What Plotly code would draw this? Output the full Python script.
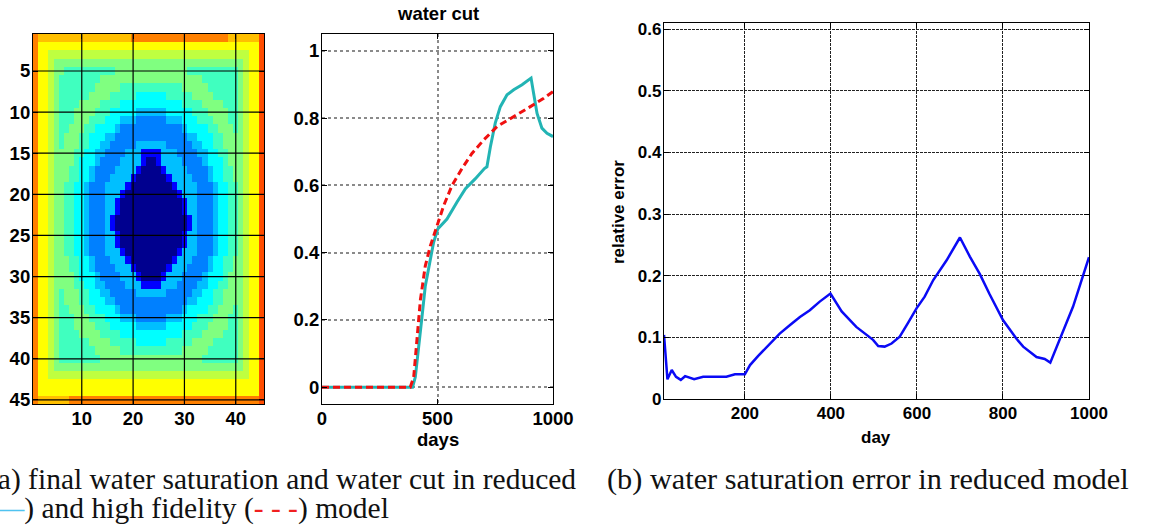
import plotly.graph_objects as go

# ---------------- data ----------------
# (a-left) final water saturation, 45 x 45 cells, coded by colour level
LEVEL_VALUES = {"0": 0.0, "1": 0.125, "2": 0.25, "3": 0.3125, "4": 0.375, "5": 0.4375,
                "6": 0.5, "7": 0.5625, "8": 0.625, "9": 0.6875, "A": 0.75, "B": 0.8}
SAT_ROWS = [
    "A" "999999999" "999999999" "AAAAAAAAAA" "AAAAAAAAA" "999999" "B",
    "A" "8888888888" "8888888888" "8888888888" "8888888888" "888" "B",
    "A88" "7777777777" "7777777777" "7777777777" "777777777" "88B",
    "A887" "6666666666" "6666666666" "6666666666" "6666666" "788B",
    "A8876" "655555555556666666" "66666665555555555" "6788B",
    "A8876" "555555556666666666" "66666666665555555" "6788B",
    "A8876" "555555566666555555" "55555566666555555" "6788B",
    "A8876" "555555666655555444" "44455555666655555" "6788B",
    "A8876" "555566665555444444" "44444455556666555" "6788B",
    "A8876" "555666655544444333" "33344444555666655" "6788B",
    "A8876" "555666555444333222" "22233344455566655" "6788B",
    "A8876" "556665544443222222" "22222234444556665" "6788B",
    "A8876" "566655444332222222" "22222223344455666" "6788B",
    "A8876" "566655443322222333" "33322222334455666" "6788B",
    "A8876" "666554433222233311" "11333222233445566" "6788B",
    "A8876" "666544432222333310" "01333322223444566" "6788B",
    "A8876" "665544322223333100" "00133332222344556" "6788B",
    "A8876" "665544322233331000" "00013333222344556" "6788B",
    "A8876" "655443222333310000" "00001333322234455" "6788B",
    "A8876" "655443222333100000" "00000133322234455" "6788B",
    "A8876" "655443222331000000" "00000013322234455" "6788B",
    "A8876" "655443222331000000" "00000013322234455" "6788B",
    "A8876" "655443222310000000" "00000001322234455" "6788B",
    "A8876" "655443222310000000" "00000001322234455" "6788B",
    "A8876" "655443222331000000" "00000013322234455" "6788B",
    "A8876" "655443222331000000" "00000013322234455" "6788B",
    "A8876" "655443222333100000" "00000133322234455" "6788B",
    "A8876" "665544322233310000" "00001333222344556" "6788B",
    "A8876" "665544322223331000" "00013332222344556" "6788B",
    "A8876" "666544432222333100" "00133322223444566" "6788B",
    "A8876" "666554433222233311" "11333222233445566" "6788B",
    "A8876" "566655443322222333" "33322222334455666" "6788B",
    "A8876" "566655444332222222" "22222223344455666" "6788B",
    "A8876" "556665544443222222" "22222234444556665" "6788B",
    "A8876" "555666555444333222" "22233344455566655" "6788B",
    "A8876" "555666655544444333" "33344444555666655" "6788B",
    "A8876" "555566665555444444" "44444455556666555" "6788B",
    "A8876" "555555666655555444" "44455555666655555" "6788B",
    "A8876" "555555566666555555" "55555566666555555" "6788B",
    "A8876" "555555556666666666" "66666666665555555" "6788B",
    "A887" "6666666666" "6666666666" "6666666666" "6666666" "788B",
    "A88" "7777777777" "7777777777" "7777777777" "777777777" "88B",
    "A" "8888888888" "8888888888" "8888888888" "8888888888" "888" "B",
    "A" "8888888888" "8888888888" "8888888888" "8888888888" "888" "B",
    "A" "999999" "AAAAAAAAAA" "AAAAAAAAAA" "AAAAAAAAAA" "AAAAAAA" "B",
]
CELL_INDEX = list(range(1, 46))
HM_XTICKS = [10, 20, 30, 40]
HM_YTICKS = [5, 10, 15, 20, 25, 30, 35, 40, 45]

# (a-right) water cut
WC_RED_DAY = [0, 392, 404, 418, 433, 447, 465, 483, 501, 541, 584, 621, 664, 703, 714,
              729, 750, 772, 801, 830, 866, 905, 916, 931, 952, 974, 1000]
WC_RED = [0, 0, 0.03, 0.11, 0.21, 0.30, 0.37, 0.43, 0.47, 0.50, 0.55, 0.59, 0.62, 0.65, 0.655,
          0.715, 0.785, 0.834, 0.869, 0.884, 0.899, 0.919, 0.874, 0.814, 0.77, 0.755, 0.745]
WC_HF_DAY = [0, 382, 397, 411, 426, 447, 469, 498, 527, 563, 606, 649, 700, 758, 830, 902, 960, 1000]
WC_HF = [0, 0, 0.03, 0.15, 0.26, 0.36, 0.42, 0.48, 0.54, 0.60, 0.65, 0.695, 0.735, 0.775,
         0.804, 0.834, 0.859, 0.879]
WC_XTICKS = [0, 500, 1000]
WC_YTICKS = [0, 0.2, 0.4, 0.6, 0.8, 1]

# (b) relative error
ERR_DAY = [12, 20, 30, 40, 51, 61, 82, 103, 157, 177, 200, 212, 231, 258, 281, 305, 328, 351,
           374, 399, 425, 459, 498, 510, 525, 541, 560, 579, 599, 618, 638, 669, 700, 723, 746,
           769, 800, 831, 847, 878, 897, 910, 932, 963, 1000]
ERR_VAL = [0.104, 0.032, 0.047, 0.036, 0.031, 0.037, 0.032, 0.036, 0.036, 0.040, 0.040, 0.055,
           0.070, 0.090, 0.106, 0.120, 0.133, 0.144, 0.158, 0.171, 0.142, 0.117, 0.096, 0.086,
           0.085, 0.090, 0.101, 0.123, 0.147, 0.166, 0.193, 0.225, 0.262, 0.231, 0.203, 0.170,
           0.128, 0.098, 0.085, 0.068, 0.065, 0.059, 0.096, 0.150, 0.230]
ERR_XTICKS = [200, 400, 600, 800, 1000]
ERR_YTICKS = [0, 0.1, 0.2, 0.3, 0.4, 0.5, 0.6]

# ---------------- figure ----------------
for row in SAT_ROWS:
    assert len(row) == 45, (row, len(row))
assert len(SAT_ROWS) == 45
Z = [[LEVEL_VALUES[ch] for ch in row] for row in SAT_ROWS]

W, H = 1149, 525
JET = [[0.0, "#00008F"], [0.125, "#0000FF"], [0.375, "#00FFFF"], [0.625, "#FFFF00"],
       [0.875, "#FF0000"], [1.0, "#800000"]]

FONT_A = dict(family="Liberation Sans", size=18.5, color="black")
FONT_B = dict(family="Liberation Sans", size=17, color="black")


def bold(vals):
    return ["<b>%g</b>" % v for v in vals]


def px_x(p):
    return p / W


def px_y(p):
    return 1 - p / H


fig = go.Figure()
fig.add_trace(go.Heatmap(z=Z, x=CELL_INDEX, y=CELL_INDEX, colorscale=JET, zmin=0, zmax=1,
                         showscale=False, hoverinfo="skip", xaxis="x", yaxis="y"))
fig.add_trace(go.Scatter(x=WC_RED_DAY, y=WC_RED, mode="lines", showlegend=False,
                         line=dict(color="#22B4B4", width=3), xaxis="x2", yaxis="y2"))
fig.add_trace(go.Scatter(x=WC_HF_DAY, y=WC_HF, mode="lines", showlegend=False,
                         line=dict(color="#F01010", width=3, dash="7px,4px"),
                         xaxis="x2", yaxis="y2"))
fig.add_trace(go.Scatter(x=ERR_DAY, y=ERR_VAL, mode="lines", showlegend=False,
                         line=dict(color="#0A0AF5", width=2.5), xaxis="x3", yaxis="y3"))

common = dict(showline=True, linecolor="black", linewidth=1.2, mirror="allticks",
              ticks="inside", ticklen=5, tickcolor="black", zeroline=False,
              automargin=False, ticklabelstandoff=-2)

fig.update_layout(
    width=W, height=H, margin=dict(l=0, r=0, t=0, b=0, pad=0), autosize=False,
    paper_bgcolor="white", plot_bgcolor="white", showlegend=False,
    xaxis=dict(domain=[px_x(33), px_x(264)], range=[0.5, 45.5], tickvals=HM_XTICKS,
               ticktext=bold(HM_XTICKS), tickfont=FONT_A, showgrid=False, anchor="y",
               **common),
    yaxis=dict(domain=[px_y(404), px_y(34)], range=[45.5, 0.5], tickvals=HM_YTICKS,
               ticktext=bold(HM_YTICKS), tickfont=FONT_A, showgrid=False, anchor="x",
               **common),
    xaxis2=dict(domain=[px_x(322), px_x(553)], range=[0, 1000], tickvals=WC_XTICKS,
                ticktext=bold(WC_XTICKS), tickfont=FONT_A,
                showgrid=True, gridcolor="#8a8a8a", gridwidth=1.5, griddash="dot",
                anchor="y2", **common),
    yaxis2=dict(domain=[px_y(404), px_y(34)], range=[-0.05, 1.05], tickvals=WC_YTICKS,
                ticktext=bold(WC_YTICKS), tickfont=FONT_A,
                showgrid=True, gridcolor="#8a8a8a", gridwidth=1.5, griddash="dot",
                anchor="x2", **common),
    xaxis3=dict(domain=[px_x(664), px_x(1089)], range=[12, 1000], tickvals=ERR_XTICKS,
                ticktext=bold(ERR_XTICKS), tickfont=FONT_B,
                showgrid=True, gridcolor="#222222", gridwidth=1.2, griddash="3px,1px",
                anchor="y3", **common),
    yaxis3=dict(domain=[px_y(399), px_y(23)], range=[0, 0.61], tickvals=ERR_YTICKS,
                ticktext=bold(ERR_YTICKS), tickfont=FONT_B,
                showgrid=True, gridcolor="#222222", gridwidth=1.2, griddash="3px,1px",
                anchor="x3", **common),
)

# grid lines drawn over the saturation map
shapes = []
for v in HM_XTICKS:
    shapes.append(dict(type="line", xref="x", yref="y domain", x0=v, x1=v, y0=0, y1=1,
                       line=dict(color="black", width=1.2), layer="above"))
for v in HM_YTICKS:
    shapes.append(dict(type="line", xref="x domain", yref="y", x0=0, x1=1, y0=v, y1=v,
                       line=dict(color="black", width=1.2), layer="above"))
fig.update_layout(shapes=shapes)

CAPFONT_A = dict(family="Liberation Serif", size=29.5, color="#111111")
CAPFONT_B = dict(family="Liberation Serif", size=30.3, color="#111111")
ann = [
    dict(text="<b>water cut</b>", x=px_x(437.5), y=px_y(14), xref="paper", yref="paper",
         showarrow=False, xanchor="center", yanchor="middle", font=FONT_A),
    dict(text="<b>days</b>", x=px_x(437.5), y=px_y(439), xref="paper", yref="paper",
         showarrow=False, xanchor="center", yanchor="middle", font=FONT_A),
    dict(text="<b>day</b>", x=px_x(876), y=px_y(437), xref="paper", yref="paper",
         showarrow=False, xanchor="center", yanchor="middle", font=FONT_B),
    dict(text="<b>relative error</b>", x=px_x(618), y=px_y(212), xref="paper", yref="paper",
         showarrow=False, xanchor="center", yanchor="middle", textangle=-90, font=FONT_B),
    dict(text="(a) final water saturation and water cut in reduced",
         x=px_x(-14), y=px_y(479), xref="paper", yref="paper", showarrow=False,
         xanchor="left", yanchor="middle", font=CAPFONT_A),
    dict(text="(<span style='color:#4FC3F0'>—</span>) and high fidelity "
              "(<span style='color:#F02020'>- - -</span>) model",
         x=px_x(-17), y=px_y(508), xref="paper", yref="paper", showarrow=False,
         xanchor="left", yanchor="middle", font=CAPFONT_A),
    dict(text="(b) water saturation error in reduced model",
         x=px_x(605), y=px_y(479), xref="paper", yref="paper", showarrow=False,
         xanchor="left", yanchor="middle", font=CAPFONT_B),
]
fig.update_layout(annotations=ann)

fig.write_html("out.html")
